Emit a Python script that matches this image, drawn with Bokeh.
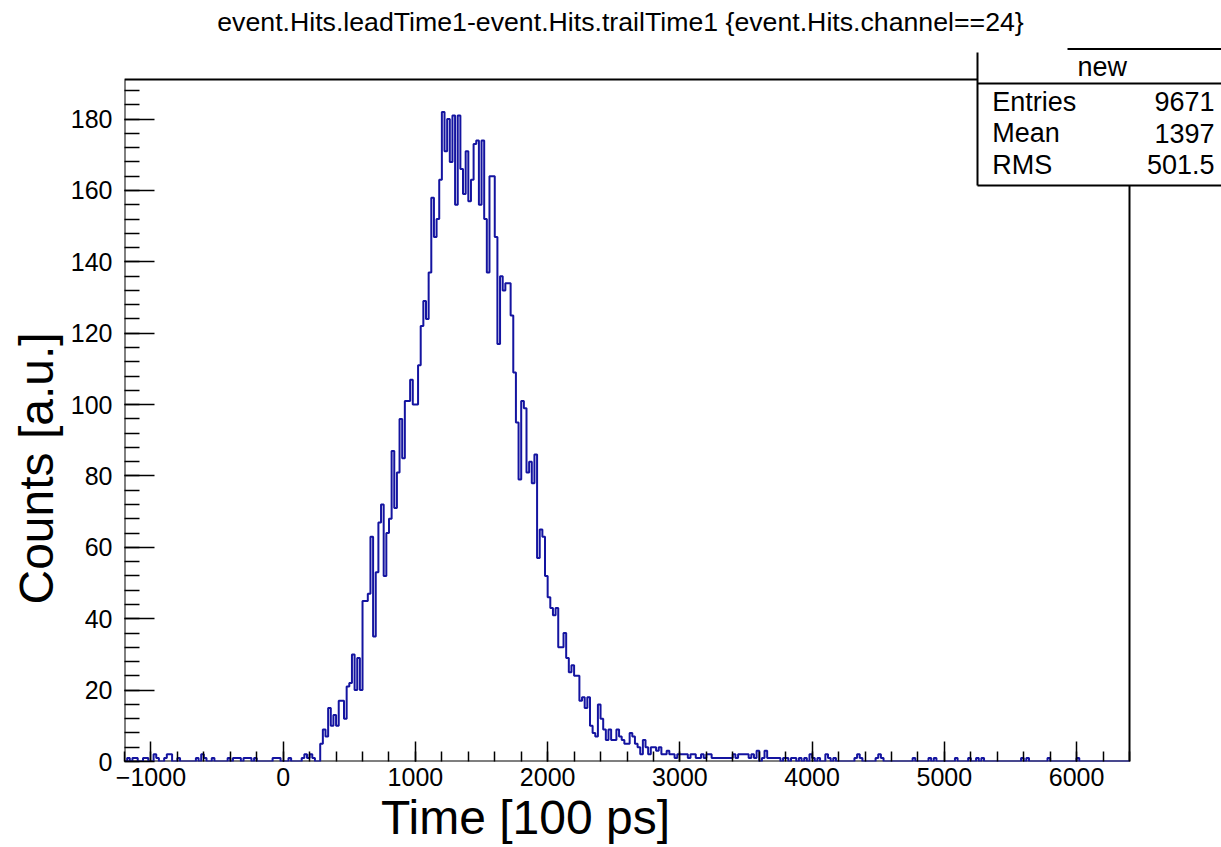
import numpy as np
from bokeh.plotting import figure
from bokeh.models import Label, BoxAnnotation, PolyAnnotation, FixedTicker, Range1d, Title
from bokeh.embed import file_html
from bokeh.resources import INLINE

# ---------------- data ----------------
X_MIN, X_MAX, BIN_W = -1200, 6400, 20
Y_MAX = 191.1

left_tail_edges = [-1180, -1140, -1120, -1060, -1040, -980, -960, -900, -880, -860, -800,
                   -660, -620, -600, -540, -420, -380, -360, -340, -300, -280, -260, -220,
                   -80, -60, -40, 40]
left_tail_counts = [1, 1, 1, 1, 1, 2, 1, 1, 2, 2, 1,
                    1, 2, 1, 1, 1, 1, 1, 1, 1, 1, 1, 1,
                    1, 1, 1, 1]

core_start = 140
core_counts = [1, 2, 1, 2, 1, 0, 0, 5, 9, 7, 15, 10, 13, 10, 17, 17, 12, 21, 22, 30, 20, 29, 20,
               45, 45, 47, 63, 35, 53, 67, 72, 52, 64, 68, 87, 71, 81, 96,
               85, 101, 101, 107, 100, 100, 111, 122, 129, 124, 137, 158, 147, 152, 163,
               182, 171, 180, 168, 181, 156, 181, 166, 159, 171, 157, 163, 173, 174, 156,
               174, 152, 137, 164, 164, 147, 117, 136, 132, 134, 134, 125, 109, 95, 79,
               101, 99, 81, 84, 78, 86, 57, 65, 63, 52, 46, 43, 41, 43, 32,
               32, 36, 29, 25, 27, 24, 24, 17, 18, 15, 18, 10, 8, 7, 16,
               12, 9, 6, 9]

right_tail_edges = [2480, 2500, 2520, 2540, 2560, 2580, 2600, 2620, 2640, 2660, 2680, 2700,
                    2720, 2740, 2760, 2780, 2800, 2820, 2840, 2860, 2880, 2900, 2920, 2940,
                    2960, 2980, 3000, 3020, 3040, 3060, 3080, 3100, 3120, 3140, 3160, 3180,
                    3200, 3220, 3240, 3260, 3280, 3300, 3320, 3340, 3360, 3380, 3400, 3420,
                    3440, 3460, 3480, 3500, 3520, 3540, 3560, 3580, 3620, 3640, 3660, 3680,
                    3700, 3720, 3740, 3780, 3800, 3840, 3860, 3900, 3940, 3980, 4000, 4040,
                    4100, 4120, 4160, 4320, 4340, 4360, 4480, 4500, 4520, 4760, 4880, 4920,
                    5080, 5180, 5240, 5280, 5580, 5620, 5780, 6000]
right_tail_counts = [6, 6, 9, 7, 6, 5, 5, 8, 7, 5, 4, 2,
                     6, 4, 2, 4, 4, 3, 4, 2, 2, 3, 2, 2,
                     1, 2, 2, 2, 2, 1, 2, 2, 1, 1, 2, 1,
                     2, 2, 1, 1, 1, 1, 1, 1, 1, 1, 2, 1,
                     2, 2, 2, 2, 1, 2, 1, 3, 1, 3, 1, 1,
                     1, 1, 1, 1, 1, 1, 1, 1, 1, 2, 1, 1,
                     2, 1, 1, 1, 2, 1, 1, 2, 1, 1, 1, 1,
                     1, 1, 1, 1, 1, 1, 1, 1]

title_text = "event.Hits.leadTime1-event.Hits.trailTime1 {event.Hits.channel==24}"
x_title = "Time [100 ps]"
y_title = "Counts [a.u.]"
x_ticks = list(range(-1000, 6001, 1000))
x_minor = list(range(-1200, 6401, 200))
y_ticks = list(range(0, 181, 20))
y_minor = list(range(0, 192, 4))
stats_name = "new"
stats_labels = ["Entries", "Mean", "RMS"]
stats_values = ["9671", "1397", "501.5"]

# ---------------- histogram ----------------
nb = (X_MAX - X_MIN) // BIN_W
counts = np.zeros(nb)
for e, c in zip(left_tail_edges, left_tail_counts):
    counts[(e - X_MIN) // BIN_W] = c
for k, c in enumerate(core_counts):
    counts[(core_start - X_MIN) // BIN_W + k] = c
for e, c in zip(right_tail_edges, right_tail_counts):
    counts[(e - X_MIN) // BIN_W] = c
edges = X_MIN + BIN_W * np.arange(nb + 1)
step_y = np.append(counts, counts[-1])

FONT = "Liberation Sans"
W, H = 1221, 847
FL, FB = 124, 761          # frame left / bottom in canvas pixels
FT = 0                     # canvas top of the (enlarged) frame
HIST_W, HIST_H = 1005, 682  # pixel size of the histogram box
x_end = X_MIN + (W - FL) * (X_MAX - X_MIN) / HIST_W
y_end = Y_MAX * (FB - FT) / HIST_H


def fx(px):
    return px - FL


def fy(py):
    return FB - py


p = figure(width=W, height=H, x_range=Range1d(X_MIN, x_end), y_range=Range1d(0, y_end),
           output_backend="svg", toolbar_location=None, title=None,
           min_border_left=FL, min_border_top=FT, min_border_right=0,
           min_border_bottom=H - FB)
p.background_fill_color = "white"
p.border_fill_color = "white"
p.outline_line_color = None
p.grid.visible = False

# histogram frame (the box of the axes' range)
p.quad(left=[X_MIN], right=[X_MAX], bottom=[0], top=[Y_MAX], fill_color=None,
       line_color="black", line_width=2)

p.step(edges, step_y, mode="after", line_color="#1414a0", line_width=2)

for ax in (p.xaxis[0], p.yaxis[0]):
    ax.axis_line_color = None
    ax.major_tick_line_color = "black"
    ax.minor_tick_line_color = "black"
    ax.major_tick_line_width = 1.5
    ax.minor_tick_line_width = 1.5
    ax.major_tick_out = 0
    ax.minor_tick_out = 0
    ax.major_label_text_font = FONT
    ax.major_label_text_font_size = "25px"
    ax.major_label_text_color = "black"

p.xaxis.ticker = FixedTicker(ticks=x_ticks, minor_ticks=x_minor)
p.xaxis.major_tick_in = 20
p.xaxis.minor_tick_in = 10
p.xaxis.major_label_standoff = 6
p.yaxis.ticker = FixedTicker(ticks=y_ticks, minor_ticks=y_minor)
p.yaxis.major_tick_in = 30
p.yaxis.minor_tick_in = 15
p.yaxis.major_label_standoff = 12

p.add_layout(Title(text=x_title, align="left", offset=380.5 - FL, standoff=0,
                   text_font=FONT, text_font_size="48px", text_font_style="normal",
                   text_color="black"), "below")
p.add_layout(Title(text=y_title, align="left", offset=FB - 604, standoff=9,
                   text_font=FONT, text_font_size="48px", text_font_style="normal",
                   text_color="black"), "left")


def lab(x, y, text, size, align="left", baseline="alphabetic"):
    p.add_layout(Label(x=fx(x), y=fy(y), x_units="screen", y_units="screen", text=text,
                       text_font=FONT, text_font_size=size, text_color="black",
                       text_align=align, text_baseline=baseline))


def seg(x1, y1, x2, y2):
    p.add_layout(PolyAnnotation(xs=[fx(x1), fx(x2), fx(x1)], ys=[fy(y1), fy(y2), fy(y1)],
                                xs_units="screen", ys_units="screen",
                                fill_alpha=0.0, line_color="black", line_alpha=1.0,
                                line_width=2))


TEXT_SHIFT = 11  # Label baseline correction

# main title
lab(620, 32.5 - TEXT_SHIFT, title_text, "26.7px", align="center")

# stats box
p.add_layout(BoxAnnotation(left=fx(977), right=fx(1260), top=fy(48), bottom=fy(185),
                           left_units="screen", right_units="screen",
                           top_units="screen", bottom_units="screen",
                           fill_color="white", fill_alpha=1.0, line_alpha=0.0))
seg(977, 52, 977, 185)
seg(1067, 48.5, 1260, 48.5)
seg(977, 83, 1260, 83)
seg(977, 185, 1260, 185)

lab(1101.7, 75 - TEXT_SHIFT + 2, stats_name, "27px", align="center")
for i, (sl, sv) in enumerate(zip(stats_labels, stats_values)):
    base = 112.3 + 31.4 * i - TEXT_SHIFT
    lab(991.7, base, sl, "27px")
    lab(1214, base, sv, "27px", align="right")

open("out.html", "w").write(file_html(p, INLINE))
